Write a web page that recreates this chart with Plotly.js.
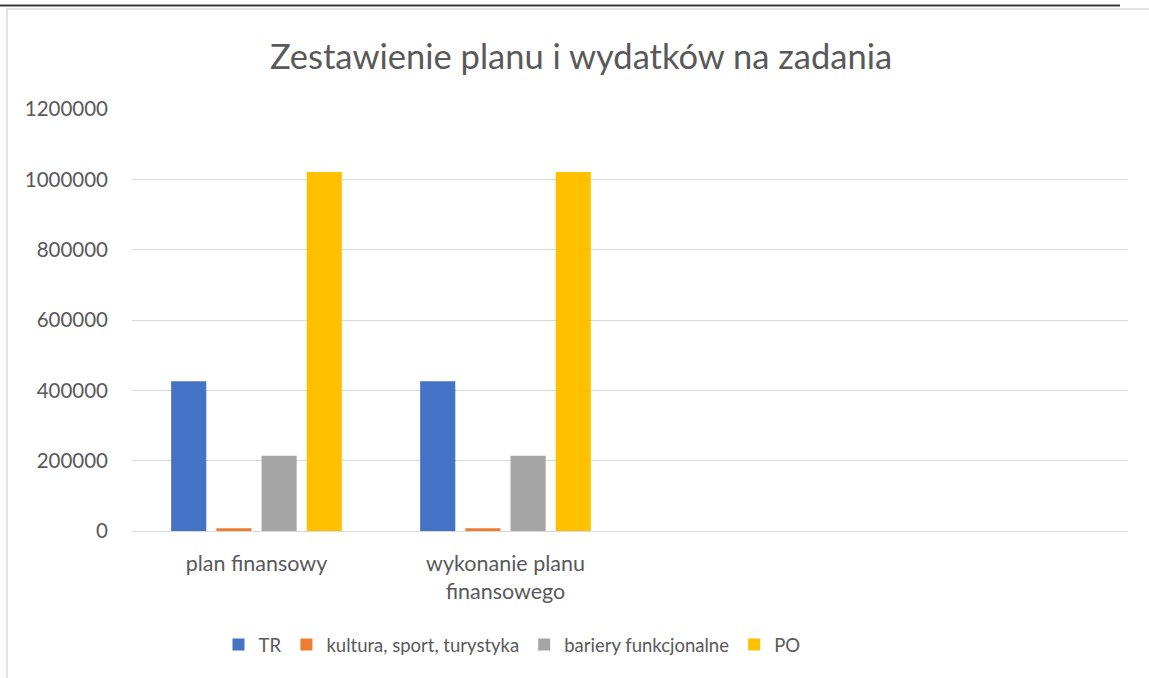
<!DOCTYPE html>
<html>
<head>
<meta charset="utf-8">
<script src="https://cdn.plot.ly/plotly-3.0.1.min.js"></script>
<style>
html,body{margin:0;padding:0;background:#fff;}
#chart{width:1149px;height:678px;}
</style>
</head>
<body>
<div id="chart"></div>
<script>
const categories = ["plan finansowy", "wykonanie planu<br>finansowego"];
const seriesNames = ["TR", "kultura, sport, turystyka", "bariery funkcjonalne", "PO"];
const trValues = [426000, 426000];
const kulturaValues = [8000, 8000];
const barieryValues = [214000, 214000];
const poValues = [1021000, 1021000];
const yTicks = [0, 200000, 400000, 600000, 800000, 1000000, 1200000];
const colors = ["#4472C4", "#ED7D31", "#A5A5A5", "#FFC000"];

const allValues = [trValues, kulturaValues, barieryValues, poValues];
const traces = allValues.map((vals, i) => ({
  type: "bar",
  name: seriesNames[i],
  x: categories,
  y: vals,
  marker: {color: colors[i], line: {width: 0}},
  hoverinfo: "x+y+name"
}));

const W = 1149, H = 678;
const L = 132, R = 1128, T = 109, B = 531;
const pw = R - L, ph = B - T;
const px = v => (v - L) / pw;
const py = v => (B - v) / ph;

const textColor = "#595959";
const font = "Lato, 'Open Sans', sans-serif";

const layout = {
  width: W, height: H,
  margin: {l: L, r: W - R, t: T, b: H - B, pad: 0},
  paper_bgcolor: "#ffffff",
  plot_bgcolor: "#ffffff",
  font: {family: font, color: textColor, size: 17},
  title: {
    text: "Zestawienie planu i wydatków na zadania",
    font: {family: font, size: 34.5, color: textColor},
    x: px(581), xref: "paper", xanchor: "center",
    y: 1 - 57 / H, yref: "container", yanchor: "middle"
  },
  barmode: "group",
  bargap: 0.274,
  bargroupgap: 0.222,
  xaxis: {
    type: "category",
    range: [-0.5, 3.5],
    showgrid: false,
    showline: true,
    linecolor: "#D9D9D9",
    linewidth: 1,
    ticks: "",
    ticklabelstandoff: 13,
    tickfont: {family: font, size: 21.5, color: textColor},
    fixedrange: true
  },
  yaxis: {
    range: [0, 1200000],
    tickvals: yTicks,
    ticktext: yTicks.map(String),
    showgrid: true,
    gridcolor: "#D9D9D9",
    gridwidth: 1,
    zeroline: false,
    showline: false,
    ticks: "",
    ticklabelstandoff: 23,
    tickfont: {family: font, size: 20.5, color: textColor},
    fixedrange: true
  },
  showlegend: true,
  legend: {
    orientation: "h",
    x: px(512), xanchor: "center",
    y: py(645), yanchor: "middle",
    font: {family: font, size: 18.5, color: textColor},
    itemwidth: 30,
    traceorder: "normal"
  },
  shapes: [
    {type: "line", xref: "paper", yref: "paper",
     x0: px(0), x1: px(1120), y0: py(5.5), y1: py(5.5),
     line: {color: "#3a3a3a", width: 2}},
    {type: "line", xref: "paper", yref: "paper",
     x0: px(7), x1: px(1149), y0: py(9), y1: py(9),
     line: {color: "#D9D9D9", width: 1.5}},
    {type: "line", xref: "paper", yref: "paper",
     x0: px(7), x1: px(7), y0: py(9), y1: py(678),
     line: {color: "#D9D9D9", width: 1.5}}
  ]
};

Plotly.newPlot("chart", traces, layout, {displayModeBar: false, staticPlot: true});
</script>
</body>
</html>
